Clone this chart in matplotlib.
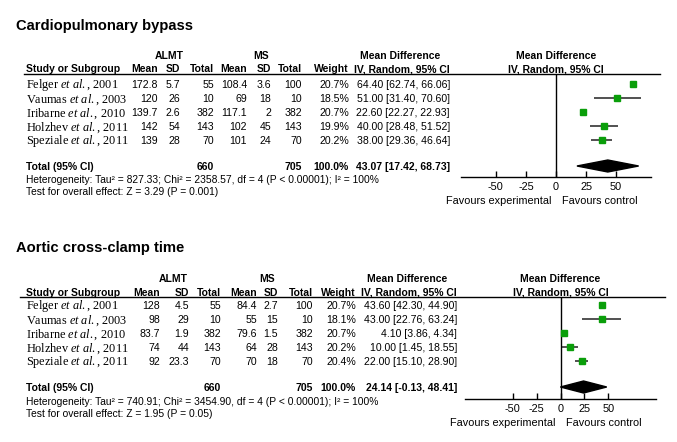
import matplotlib
matplotlib.use("Agg")
import matplotlib.pyplot as plt
from matplotlib.patches import Polygon

plt.rcParams['axes.unicode_minus'] = False
plt.rcParams['mathtext.fontset'] = 'custom'
plt.rcParams['mathtext.rm'] = 'Liberation Serif'
plt.rcParams['mathtext.it'] = 'Liberation Serif:italic'

SANS = 'Liberation Sans'
SERIF = 'Liberation Serif'
FS = 7.6
FS_HDR = 7.5
FS_SERIF = 8.8
GREEN = '#0a9e0a'

# ---------------------------------------------------------------- data
authors = ['Felger', 'Vaumas', 'Iribarne', 'Holzhev', 'Speziale']
years = ['2001', '2003', '2010', '2011', '2011']

# Cardiopulmonary bypass
cpb_almt_mean = ['172.8', '120', '139.7', '142', '139']
cpb_almt_sd = ['5.7', '26', '2.6', '54', '28']
cpb_almt_n = [55, 10, 382, 143, 70]
cpb_ms_mean = ['108.4', '69', '117.1', '102', '101']
cpb_ms_sd = ['3.6', '18', '2', '45', '24']
cpb_ms_n = [100, 10, 382, 143, 70]
cpb_weight = ['20.7%', '18.5%', '20.7%', '19.9%', '20.2%']
cpb_md = [64.40, 51.00, 22.60, 40.00, 38.00]
cpb_lo = [62.74, 31.40, 22.27, 28.48, 29.36]
cpb_hi = [66.06, 70.60, 22.93, 51.52, 46.64]
cpb_total = (660, 705, 43.07, 17.42, 68.73)
cpb_het = 'Heterogeneity: Tau\u00b2 = 827.33; Chi\u00b2 = 2358.57, df = 4 (P < 0.00001); I\u00b2 = 100%'
cpb_test = 'Test for overall effect: Z = 3.29 (P = 0.001)'

# Aortic cross-clamp time
acc_almt_mean = ['128', '98', '83.7', '74', '92']
acc_almt_sd = ['4.5', '29', '1.9', '44', '23.3']
acc_almt_n = [55, 10, 382, 143, 70]
acc_ms_mean = ['84.4', '55', '79.6', '64', '70']
acc_ms_sd = ['2.7', '15', '1.5', '28', '18']
acc_ms_n = [100, 10, 382, 143, 70]
acc_weight = ['20.7%', '18.1%', '20.7%', '20.2%', '20.4%']
acc_md = [43.60, 43.00, 4.10, 10.00, 22.00]
acc_lo = [42.30, 22.76, 3.86, 1.45, 15.10]
acc_hi = [44.90, 63.24, 4.34, 18.55, 28.90]
acc_total = (660, 705, 24.14, -0.13, 48.41)
acc_het = 'Heterogeneity: Tau\u00b2 = 740.91; Chi\u00b2 = 3454.90, df = 4 (P < 0.00001); I\u00b2 = 100%'
acc_test = 'Test for overall effect: Z = 1.95 (P = 0.05)'

ticks = [-50, -25, 0, 25, 50]

# ---------------------------------------------------------------- figure
W, H = 677, 442
fig = plt.figure(figsize=(W / 100, H / 100), dpi=100)
bg = fig.add_axes([0, 0, 1, 1])
bg.set_xlim(0, W)
bg.set_ylim(H, 0)
bg.axis('off')


def txt(x, y, s, ha='left', bold=False, size=FS, family=SANS):
    # y is the visual middle of the line; place by baseline
    return bg.text(x, y + 0.36 * size * 100 / 72, s, ha=ha, va='baseline',
                   fontsize=size, family=family,
                   fontweight='bold' if bold else 'normal')


def draw_panel(title, lay, almt_mean, almt_sd, almt_n, ms_mean, ms_sd, ms_n,
               weight, md, lo, hi, total, het, test, xlim):
    c = lay['cols']
    txt(16, lay['title'], title, bold=True, size=10.6)

    # group headers
    gy = lay['grp']
    txt(lay['almt_c'], gy, 'ALMT', ha='center', bold=True, size=FS_HDR)
    txt(lay['ms_c'], gy, 'MS', ha='center', bold=True, size=FS_HDR)
    txt(c[7] - 50, gy, 'Mean Difference', ha='center', bold=True, size=FS_HDR)
    txt(lay['zero'], gy, 'Mean Difference', ha='center', bold=True, size=FS_HDR)

    hy = lay['line'] - 5.2
    txt(26, hy, 'Study or Subgroup', bold=True, size=FS_HDR)
    for cx, h in zip(c, ['Mean', 'SD', 'Total', 'Mean', 'SD', 'Total', 'Weight',
                         'IV, Random, 95% CI']):
        txt(cx, hy, h, ha='right', bold=True, size=FS_HDR)
    txt(lay['zero'], hy, 'IV, Random, 95% CI', ha='center', bold=True, size=FS_HDR)
    bg.plot([lay['line_x0'], lay['line_x1']], [lay['line'], lay['line']],
            color='black', lw=1.0)

    ys = [lay['row0'] + i * lay['dy'] for i in range(len(authors))]
    for i, y in enumerate(ys):
        label = authors[i] + r' $\mathit{et\ al.}$, ' + years[i]
        txt(26, y, label, family=SERIF, size=FS_SERIF)
        vals = [almt_mean[i], almt_sd[i], str(almt_n[i]), ms_mean[i], ms_sd[i],
                str(ms_n[i]), weight[i],
                '%.2f [%.2f, %.2f]' % (md[i], lo[i], hi[i])]
        for cx, v in zip(c, vals):
            txt(cx, y, v, ha='right')

    ty = lay['total']
    txt(26, ty, 'Total (95% CI)', bold=True, size=FS_HDR)
    txt(c[2], ty, str(total[0]), ha='right', bold=True, size=FS_HDR)
    txt(c[5], ty, str(total[1]), ha='right', bold=True, size=FS_HDR)
    txt(c[6], ty, '100.0%', ha='right', bold=True, size=FS_HDR)
    txt(c[7], ty, '%.2f [%.2f, %.2f]' % total[2:], ha='right', bold=True, size=FS_HDR)
    txt(26, lay['het'], het, size=FS - 0.2)
    txt(26, lay['test'], test, size=FS - 0.2)

    # forest plot
    x0, x1 = lay['fx']
    ax = fig.add_axes([x0 / W, 1 - lay['axis'] / H, (x1 - x0) / W,
                       (lay['axis'] - lay['line']) / H])
    ax.set_xlim(*xlim)
    ax.set_ylim(lay['axis'], lay['line'])
    ax.patch.set_alpha(0)
    for s in ['top', 'left', 'right']:
        ax.spines[s].set_visible(False)
    ax.spines['bottom'].set_linewidth(1.0)
    ax.set_yticks([])
    ax.set_xticks(ticks)
    ax.set_xticklabels([str(t) for t in ticks], fontsize=FS + 0.2, family=SANS)
    ax.tick_params(axis='x', direction='in', length=4, width=1.0, pad=3.5)
    ax.axvline(0, color='black', lw=1.0)
    ax.hlines(ys, lo, hi, color='#222222', lw=1.1, zorder=2)
    ax.plot(md, ys, 's', color=GREEN, ms=4.2, mec=GREEN, zorder=3, clip_on=False)
    est, dlo, dhi = total[2:]
    ax.add_patch(Polygon([(dlo, ty), (est, ty - 6), (dhi, ty), (est, ty + 6)],
                         closed=True, color='black', clip_on=False))

    txt(lay['zero'] - 5, lay['fav'], 'Favours experimental', ha='right', size=FS + 0.2)
    txt(lay['zero'] + 6, lay['fav'], 'Favours control', ha='left', size=FS + 0.2)


top_layout = dict(title=25, grp=55.5, line=73.5, row0=84, dy=14,
                  total=166, het=179, test=191, axis=177, fav=200,
                  cols=[158, 180, 214, 247, 271, 302, 349, 450],
                  almt_c=169, ms_c=261, zero=556, fx=(461, 651),
                  line_x0=24, line_x1=660)
bot_layout = dict(title=247, grp=278, line=297, row0=305, dy=14,
                  total=387, het=401, test=413, axis=399, fav=422,
                  cols=[160, 189, 221, 257, 278, 313, 356, 457],
                  almt_c=173, ms_c=267.5, zero=560.5, fx=(465, 656),
                  line_x0=20, line_x1=665)

draw_panel('Cardiopulmonary bypass', top_layout, cpb_almt_mean, cpb_almt_sd,
           cpb_almt_n, cpb_ms_mean, cpb_ms_sd, cpb_ms_n, cpb_weight,
           cpb_md, cpb_lo, cpb_hi, cpb_total, cpb_het, cpb_test, (-79, 79))
draw_panel('Aortic cross-clamp time', bot_layout, acc_almt_mean, acc_almt_sd,
           acc_almt_n, acc_ms_mean, acc_ms_sd, acc_ms_n, acc_weight,
           acc_md, acc_lo, acc_hi, acc_total, acc_het, acc_test, (-100, 100))

fig.savefig('out.png', dpi=100, facecolor='white')
